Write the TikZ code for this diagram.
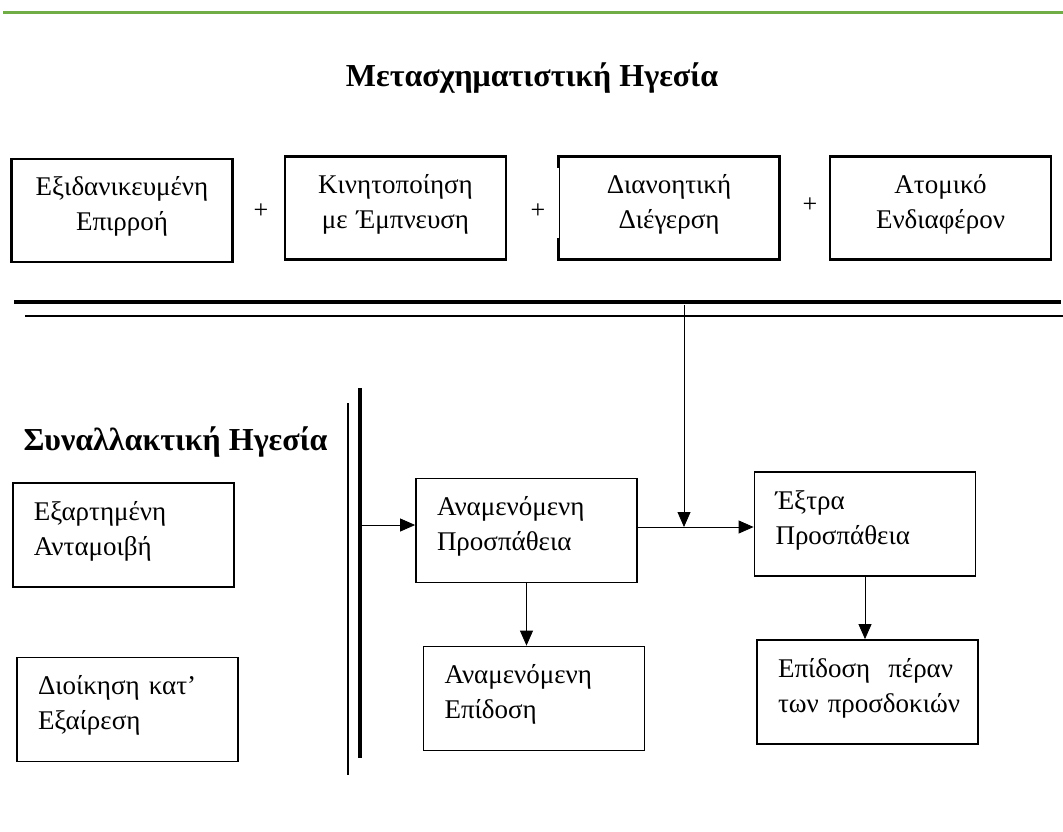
\documentclass[tikz,border=0pt]{standalone}
\usepackage{fontspec}
\setmainfont{Liberation Serif}
\usetikzlibrary{arrows.meta}
\definecolor{leafgreen}{RGB}{112,173,71}
\newcommand{\boxfont}{\fontsize{27}{35}\selectfont}
\newcommand{\headfont}{\fontsize{32}{36}\selectfont\bfseries}

\begin{document}
\begin{tikzpicture}[x=1pt,y=-1pt, >={Triangle[length=15pt,width=13pt]},
topbox/.style={draw, line width=2.2pt, text width=179pt, inner xsep=21pt, minimum height=103pt, text height=20pt, text depth=50pt, align=center, font=\boxfont},
lowbox/.style={draw, line width=1.8pt, text width=179pt, inner xsep=21pt, minimum height=104pt, text height=20pt, text depth=50pt, align=left, font=\boxfont},
plus/.style={font=\fontsize{26}{28}\selectfont},
head/.style={font=\headfont}]
\useasboundingbox (0,0) rectangle (1063,831);
\coordinate (gl) at (3,12);
\coordinate (gr) at (1063,12);
\draw[leafgreen, line width=3pt] (gl) -- (gr);
\node (mtitle) at (532,86) [head, anchor=base] {Μετασχηματιστική Ηγεσία};
\node (infl) at (122,210.5) [topbox] {Εξιδανικευμένη\\Επιρροή};
\node (motiv) at (395.5,208) [topbox] {Κινητοποίηση\\με Έμπνευση};
\node (stim) at (669,208) [topbox] {Διανοητική\\Διέγερση};
\node (consid) at (940.5,208) [topbox] {Ατομικό\\Ενδιαφέρον};
\draw[white, line width=3.5pt] ([yshift=40pt]stim.west) -- ([yshift=-30pt]stim.west);
\node (p1) at (261,211) [plus] {+};
\node (p2) at (538,211) [plus] {+};
\node (p3) at (810,205) [plus] {+};
\coordinate (la) at (14,302);
\coordinate (lb) at (1061,302);
\coordinate (lc) at (25,316);
\coordinate (ld) at (1063,316);
\draw[line width=3.3pt] (la) -- (lb);
\draw[line width=2.7pt] (lc) -- (ld);
\node (ttitle) at (20,450) [head, anchor=base west] {Συναλλακτική Ηγεσία};
\node (reward) at (123.5,535) [lowbox] {Εξαρτημένη\\Ανταμοιβή};
\node (except) at (127.5,709.5) [lowbox] {Διοίκηση κατ’\\Εξαίρεση};
\coordinate (bartop) at (360,388);
\coordinate (barbot) at (360,758);
\coordinate (thintop) at (348,403);
\coordinate (thinbot) at (348,775);
\draw[line width=3.5pt] (bartop) -- (barbot);
\draw[line width=1.2pt] (thintop) -- (thinbot);
\node (expeff) at (526.5,530.5) [lowbox] {Αναμενόμενη\\Προσπάθεια};
\node (expperf) at (534,698.5) [lowbox] {Αναμενόμενη\\Επίδοση};
\node (extraeff) at (865,524) [lowbox] {Έξτρα\\Προσπάθεια};
\node (beyond) at (867.5,692) [lowbox] {Επίδοση~ πέραν\\των~προσδοκιών};
\coordinate (barpt) at (360,525);
\coordinate (drop) at (684,305);
\coordinate (join) at (684,527);
\draw[->, thick] (barpt) -- (barpt -| expeff.west);
\draw[thick] (join -| expeff.east) -- (join);
\draw[->, thick] (join) -- (join -| extraeff.west);
\draw[->, thick] (drop) -- (join);
\draw[->, thick] (expeff.south) -- (expeff.south |- expperf.north);
\draw[->, thick] (extraeff.south) -- (extraeff.south |- beyond.north);
\end{tikzpicture}
\end{document}
